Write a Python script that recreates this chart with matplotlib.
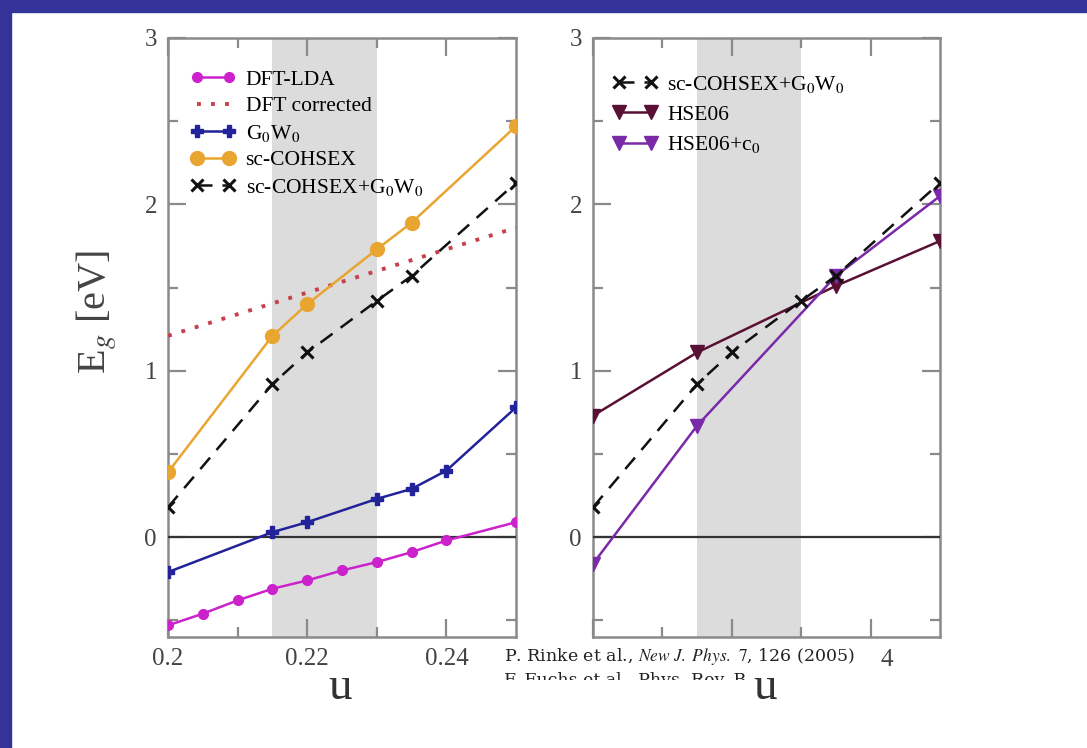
import numpy as np
import matplotlib
matplotlib.use('Agg')
import matplotlib.pyplot as plt
from matplotlib.patches import Rectangle
from matplotlib.transforms import Bbox
from matplotlib.ticker import MultipleLocator, FixedLocator

plt.rcParams['font.family'] = ['Liberation Serif', 'DejaVu Serif']
plt.rcParams['mathtext.fontset'] = 'stix'

# u values (internal parameter)
u_lda = [0.2, 0.205, 0.21, 0.215, 0.22, 0.225, 0.23, 0.235, 0.24, 0.25]
gap_lda = [-0.53, -0.46, -0.38, -0.31, -0.26, -0.20, -0.15, -0.09, -0.02, 0.09]

u_corr = [0.2, 0.25]
gap_corr = [1.21, 1.86]

u_g0w0 = [0.2, 0.215, 0.22, 0.23, 0.235, 0.24, 0.25]
gap_g0w0 = [-0.21, 0.03, 0.09, 0.23, 0.29, 0.40, 0.78]

u_cohsex = [0.2, 0.215, 0.22, 0.23, 0.235, 0.25]
gap_cohsex = [0.39, 1.21, 1.40, 1.73, 1.89, 2.47]
gap_cohsex_g0w0 = [0.18, 0.92, 1.11, 1.42, 1.57, 2.13]

u_hse = [0.2, 0.215, 0.235, 0.25]
gap_hse = [0.73, 1.11, 1.51, 1.78]
gap_hse_c = [-0.16, 0.67, 1.57, 2.05]

band = (0.215, 0.23)

W, H = 1087, 748
fig = plt.figure(figsize=(W / 100, H / 100), dpi=100)

# slide frame
fig.patches.append(Rectangle((0, 1 - 12 / H), 1, 12 / H, transform=fig.transFigure,
                             color='#333399', zorder=0))
fig.patches.append(Rectangle((0, 0), 11 / W, 1, transform=fig.transFigure,
                             color='#333399', zorder=0))

ax1 = fig.add_axes([168 / W, (H - 637) / H, 348 / W, 599 / H])
ax2 = fig.add_axes([593 / W, (H - 637) / H, 347 / W, 599 / H])

spine_c = '#8a8a8a'
lw = 1.8


def style(ax):
    ax.set_xlim(0.2, 0.25)
    ax.set_ylim(-0.6, 3)
    ax.axvspan(band[0], band[1], color='#dcdcdc', lw=0, zorder=0)
    ax.axhline(0, color='#333333', lw=1.6, zorder=2.6)
    for s in ax.spines.values():
        s.set_color(spine_c)
        s.set_linewidth(1.8)
    ax.xaxis.set_major_locator(FixedLocator([0.2, 0.22, 0.24]))
    ax.xaxis.set_minor_locator(FixedLocator([0.21, 0.23]))
    ax.yaxis.set_major_locator(MultipleLocator(1))
    ax.yaxis.set_minor_locator(FixedLocator([-0.5, 0.5, 1.5, 2.5]))
    ax.tick_params(which='both', direction='in', top=True, right=True,
                   color=spine_c, width=1.6, labelsize=18, labelcolor='#444444')
    ax.tick_params(which='major', length=13, pad=8)
    ax.tick_params(which='minor', length=7)


style(ax1)
style(ax2)
ax1.set_xticklabels(['0.2', '0.22', '0.24'])
# right panel tick labels are hidden behind the citation in the original
ax2.set_xticklabels(['', '', ''])

ax1.plot(u_lda, gap_lda, color='#cc22cc', lw=lw, marker='o', ms=7, label='DFT-LDA', zorder=3)
ax1.plot(u_corr, gap_corr, color='#c8404e', lw=2.8, ls=(0, (1, 2.6)), label='DFT corrected', zorder=3)
ax1.plot(u_g0w0, gap_g0w0, color='#22229a', lw=lw, marker='P', ms=9, label='G$_0$W$_0$', zorder=3)
ax1.plot(u_cohsex, gap_cohsex, color='#e8a630', lw=lw, marker='o', ms=10, label='sc-COHSEX', zorder=3)
ax1.plot(u_cohsex, gap_cohsex_g0w0, color='#111111', lw=lw, ls=(0, (6, 4)), marker='x', ms=8,
         mew=2.2, label='sc-COHSEX+G$_0$W$_0$', zorder=4)

ax2.plot(u_cohsex, gap_cohsex_g0w0, color='#111111', lw=lw, ls=(0, (6, 4)), marker='x', ms=8,
         mew=2.2, label='sc-COHSEX+G$_0$W$_0$', zorder=4)
ax2.plot(u_hse, gap_hse, color='#5a1035', lw=lw, marker='v', ms=10, label='HSE06', zorder=3)
ax2.plot(u_hse, gap_hse_c, color='#7a2aa8', lw=lw, marker='v', ms=10, label='HSE06+c$_0$', zorder=3)

leg_kw = dict(frameon=False, fontsize=15.5, numpoints=2, handlelength=2.1,
              handletextpad=0.45, borderpad=0, borderaxespad=0, loc='upper left')
ax1.legend(bbox_to_anchor=(0.065, 0.947), labelspacing=0.3, **leg_kw)
ax2.legend(bbox_to_anchor=(0.055, 0.940), labelspacing=0.45, **leg_kw)

fig.text(97 / W, 1 - 312 / H, 'E$_g$ [eV]', rotation=90, ha='center', va='center',
         fontsize=29, color='#444444')
fig.text(340 / W, 1 - 688 / H, 'u', ha='center', va='center', fontsize=34, color='#333333')
fig.text(765 / W, 1 - 688 / H, 'u', ha='center', va='center', fontsize=34, color='#333333')
fig.text(887 / W, 1 - 660 / H, '4', ha='center', va='center', fontsize=18, color='#444444')

# citation box covering the right panel tick labels
cax = fig.add_axes([500 / W, (H - 680) / H, 378 / W, 36 / H])
cax.set_xlim(0, 1)
cax.set_ylim(0, 1)
cax.axis('off')
cax.add_patch(Rectangle((0, 0), 1, 1, color='white', transform=cax.transAxes, zorder=0))
cax.text(0.01, 0.66, 'P. Rinke et al., $\\it{New\\ J.\\ Phys.}$ $\\it{7}$, 126 (2005)',
         fontsize=12.5, va='center', ha='left', family='DejaVu Serif', color='#222222')
t2 = cax.text(0.01, -0.02, 'F. Fuchs et al., Phys. Rev. B 76, 115109 (2007)',
              fontsize=12.5, va='center', ha='left', family='DejaVu Serif', color='#222222')
# second line is cut off by the slide in the original
t2.set_clip_box(Bbox.from_extents(500, H - 680, 748, H - 644))
t2.set_clip_on(True)

fig.savefig('out.png', dpi=100)
